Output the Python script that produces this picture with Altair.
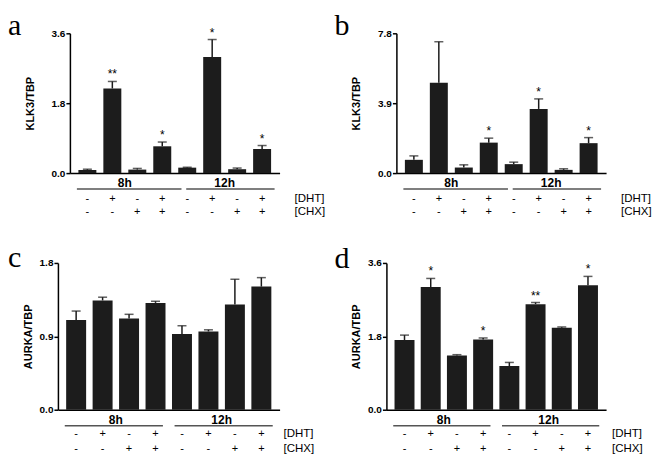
import altair as alt
import pandas as pd

idx = list(range(8))
dht = ["-", "+", "-", "+", "-", "+", "-", "+"]
chx = ["-", "-", "+", "+", "-", "-", "+", "+"]
groups = ["8h", "12h"]
group_center = [1.5, 5.5]

a_val = [0.08, 2.18, 0.09, 0.69, 0.14, 2.99, 0.10, 0.62]
a_err = [0.10, 2.36, 0.12, 0.80, 0.15, 3.44, 0.13, 0.71]
a_star = ["", "**", "", "*", "", "*", "", "*"]
b_val = [0.74, 5.04, 0.31, 1.70, 0.50, 3.58, 0.18, 1.67]
b_err = [0.96, 7.33, 0.46, 1.95, 0.61, 4.14, 0.24, 1.98]
b_star = ["", "", "", "*", "", "*", "", "*"]
c_val = [1.10, 1.34, 1.12, 1.31, 0.93, 0.96, 1.29, 1.51]
c_err = [1.21, 1.38, 1.17, 1.33, 1.03, 0.98, 1.60, 1.62]
c_star = ["", "", "", "", "", "", "", ""]
d_val = [1.71, 3.01, 1.33, 1.72, 1.07, 2.59, 2.01, 3.05]
d_err = [1.83, 3.22, 1.35, 1.76, 1.16, 2.63, 2.03, 3.27]
d_star = ["", "*", "", "*", "", "**", "", "*"]

SANS = "Liberation Sans, Arial, Helvetica, sans-serif"
SERIF = "Liberation Serif, Times New Roman, serif"
BAR = "#1c1c1c"


def panel(vals, errs, stars, ymax, ytitle, letter, W, H, barsize, lines,
          title_pad, letter_x, letter_y, lab_dx, dht_dy, chx_dy, xoff=0, anchor=None):
    df = pd.DataFrame({"i": idx, "val": vals, "err": errs, "star": stars,
                       "dht": dht, "chx": chx})
    xs = alt.Scale(domain=[-0.5, 7.5], range=[-xoff, W], nice=False, zero=False)
    ys = alt.Scale(domain=[0, ymax], nice=False)
    base = alt.Chart(df)
    bars = base.mark_bar(size=barsize, color=BAR).encode(
        x=alt.X("i:Q", scale=xs,
                axis=alt.Axis(labels=False, ticks=False, grid=False, title=None,
                              domainWidth=1.5, domainColor="black")),
        y=alt.Y("val:Q", scale=ys,
                axis=alt.Axis(values=[0, ymax / 2, ymax], format=".1f", grid=False,
                              offset=xoff,
                              title=ytitle, titleFont=SANS, titleFontSize=11,
                              titleFontWeight="bold", titleColor="black",
                              titlePadding=title_pad,
                              labelFont=SANS, labelFontSize=10, labelFontWeight="bold",
                              labelColor="black", labelPadding=1,
                              tickSize=4, tickWidth=1.5, tickColor="black",
                              domainWidth=1.5, domainColor="black")),
    )
    rule = base.mark_rule(color=BAR, strokeWidth=1.5).encode(
        x=alt.X("i:Q", scale=xs), y=alt.Y("val:Q", scale=ys), y2="err:Q")
    cap = base.mark_tick(color=BAR, thickness=1.5, size=9, orient="horizontal").encode(
        x=alt.X("i:Q", scale=xs), y=alt.Y("err:Q", scale=ys))
    star = base.mark_text(font=SANS, fontSize=12, baseline="alphabetic", dy=-3,
                          color="black").encode(
        x=alt.X("i:Q", scale=xs), y=alt.Y("err:Q", scale=ys), text="star:N")
    pm1 = base.mark_text(font=SANS, fontSize=11, baseline="middle", color="black").encode(
        x=alt.X("i:Q", scale=xs), y=alt.value(H + dht_dy), text="dht:N")
    pm2 = base.mark_text(font=SANS, fontSize=11, baseline="middle", color="black").encode(
        x=alt.X("i:Q", scale=xs), y=alt.value(H + chx_dy), text="chx:N")
    gdf = pd.DataFrame({"g": groups, "c": group_center,
                        "x0": [lines[0], lines[2]], "x1": [lines[1], lines[3]]})
    gb = alt.Chart(gdf)
    glab = gb.mark_text(font=SANS, fontSize=12, fontWeight="bold",
                        baseline="alphabetic", color="black").encode(
        x=alt.X("c:Q", scale=xs), y=alt.value(H + 14), text="g:N")
    gline = gb.mark_rule(color="#555555", strokeWidth=1.5).encode(
        x=alt.X("x0:Q", scale=xs), x2="x1:Q", y=alt.value(H + 16))
    l1 = alt.Chart(pd.DataFrame({"t": ["[DHT]"]})).mark_text(
        font=SANS, fontSize=11.5, align="left", baseline="middle", color="black").encode(
        x=alt.value(W + lab_dx), y=alt.value(H + dht_dy), text="t:N")
    l2 = alt.Chart(pd.DataFrame({"t": ["[CHX]"]})).mark_text(
        font=SANS, fontSize=11.5, align="left", baseline="middle", color="black").encode(
        x=alt.value(W + lab_dx), y=alt.value(H + chx_dy), text="t:N")
    let = alt.Chart(pd.DataFrame({"t": [letter]})).mark_text(
        font=SERIF, fontSize=30, align="left", baseline="top", color="black").encode(
        x=alt.value(letter_x), y=alt.value(letter_y), text="t:N")
    layers = [bars, rule, cap, star, glab, gline, pm1, pm2, l1, l2, let]
    if anchor is not None:
        anc = alt.Chart(pd.DataFrame({"t": [0]})).mark_rule(opacity=0, strokeWidth=1).encode(
            x=alt.value(0), x2=alt.value(2), y=alt.value(anchor))
        layers.append(anc)
    return alt.layer(*layers).properties(width=W, height=H)


top_lines = [-0.42, 3.77, 3.96, 7.5]
bot_lines = [-0.43, 3.28, 3.72, 7.43]

pa = panel(a_val, a_err, a_star, 3.6, "KLK3/TBP", "a", 210, 140, 18, top_lines,
           16, -62, -22, 15, 26, 39, anchor=-25)
pb = panel(b_val, b_err, b_star, 7.8, "KLK3/TBP", "b", 210, 140, 18, top_lines,
           16, -62, -22, 15, 26, 39, anchor=-25)
pc = panel(c_val, c_err, c_star, 1.8, "AURKA/TBP", "c", 210, 147, 20, bot_lines,
           6, -62, -20, 4, 24, 39, xoff=12)
pd_ = panel(d_val, d_err, d_star, 3.6, "AURKA/TBP", "d", 220, 147, 20, bot_lines,
            6, -52, -19, 6, 24, 39)

chart = alt.vconcat(
    alt.hconcat(pa, pb, spacing=9),
    alt.hconcat(pc, pd_, spacing=20),
    spacing=25,
).properties(padding=0).configure_view(stroke=None)

chart.save("out.html", embed_options={"renderer": "svg", "actions": False})
